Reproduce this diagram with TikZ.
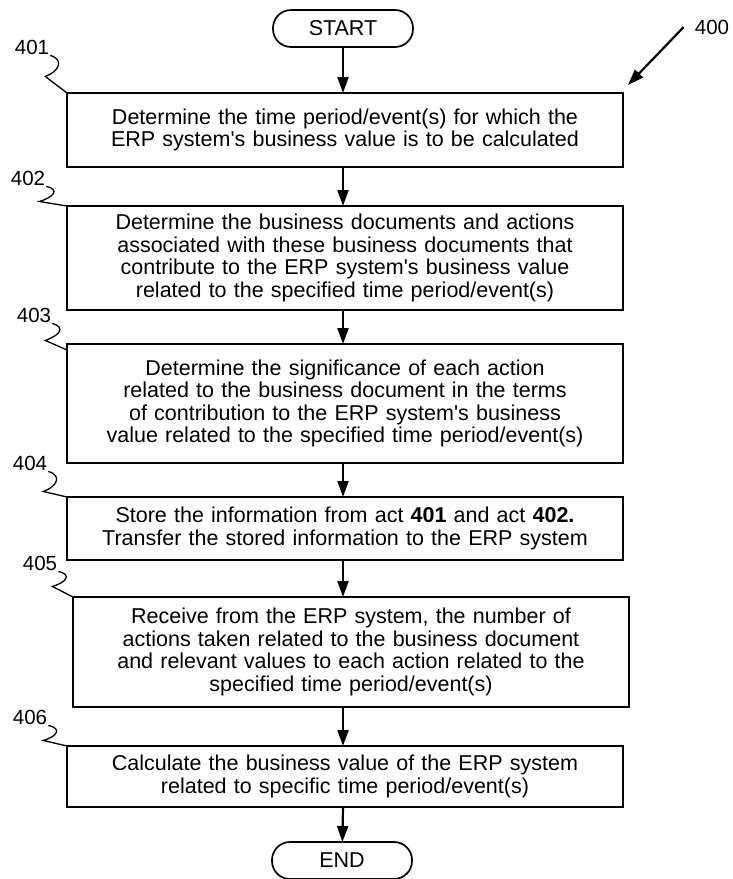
\documentclass[tikz,border=0pt]{standalone}
\usepackage{fontspec}
\setmainfont{Liberation Sans}
\usetikzlibrary{positioning,arrows.meta}

\begin{document}
\begin{tikzpicture}[x=1pt,y=1pt,
    stepbox/.style={draw,line width=1.7pt,outer sep=0pt,align=center,minimum width=556pt,text width=545pt,inner sep=0pt,font=\fontsize{21.5}{22.5}\selectfont},
    term/.style={draw,line width=1.7pt,outer sep=0pt,rounded corners=18pt,minimum width=140pt,minimum height=37pt,inner sep=0pt,font=\fontsize{21.5}{22}\selectfont},
    num/.style={inner sep=1pt,font=\fontsize{20.5}{22}\selectfont},
    flow/.style={line width=2.2pt,-{Triangle[length=16pt,width=11pt]}},
    squig/.style={line width=1.3pt}] %
    \useasboundingbox (0,0) rectangle (732,-879);
    \node[term] (start) at (343,-28.5) {START} ; %
    \node[stepbox,minimum height=74pt,below=46pt of start,xshift=2pt] (s401) {Determine the time period/event(s) for which the\\ERP system\textquotesingle s business value is to be calculated} ; %
    \node[stepbox,minimum height=104pt,below=39pt of s401] (s402) {Determine the business documents and actions\\associated with these business documents that\\contribute to the ERP system\textquotesingle s business value\\related to the specified time period/event(s)} ; %
    \node[stepbox,minimum height=119pt,below=34pt of s402] (s403) {Determine the significance of each action\\related to the business document in the terms\\of contribution to the ERP system\textquotesingle s business\\value related to the specified time period/event(s)};
    \node[stepbox,minimum height=63pt,below=34pt of s403] (s404) {Store the information from act \textbf{401} and act \textbf{402.}\\Transfer the stored information to the ERP system};
    \node[stepbox,minimum height=110pt,below=37pt of s404,xshift=6pt] (s405) {Receive from the ERP system, the number of\\actions taken related to the business document\\and relevant values to each action related to the\\specified time period/event(s)};
    \node[stepbox,minimum height=61pt,below=39pt of s405,xshift=-6pt] (s406) {Calculate the business value of the ERP system\\related to specific time period/event(s)};
    \node[term,below=35pt of s406,xshift=-3pt] (end) {END};
    % reference numerals
    \node[num] (l400) at (712,-27) {400};
    \node[num] (l401) at (32,-47) {401};
    \node[num] (l402) at (28,-178) {402};
    \node[num] (l403) at (34,-315) {403};
    \node[num] (l404) at (30,-463) {404};
    \node[num] (l405) at (40,-563) {405};
    \node[num] (l406) at (30,-717) {406};
    % flow
    \draw[flow] (start) -- (start |- s401.north);
    \draw[flow] (start |- s401.south) -- (start |- s402.north);
    \draw[flow] (start |- s402.south) -- (start |- s403.north);
    \draw[flow] (start |- s403.south) -- (start |- s404.north);
    \draw[flow] (start |- s404.south) -- (start |- s405.north);
    \draw[flow] (start |- s405.south) -- (start |- s406.north);
    \draw[flow] (start |- s406.south) -- (end);
    \draw[flow] ([xshift=-10pt]l400.west) -- ([shift={(5pt,8pt)}]s401.north east);
    % leaders
    \draw[squig] (l401.south east) .. controls +(14,-4) and +(14,5) .. ++(-5,-21) -- (s401.north west);
    \draw[squig] (l402.south east) .. controls +(14,-3) and +(14,4) .. ++(-7,-15) -- (s402.north west);
    \draw[squig] (l403.south east) .. controls +(14,-4) and +(14,5) .. ++(-7,-17) -- ([yshift=-6pt]s403.north west);
    \draw[squig] (l404.south east) .. controls +(14,-4) and +(14,5) .. ++(-5,-20) -- (s404.north west);
    \draw[squig] (l405.south east) .. controls +(14,-3) and +(14,4) .. ++(-6,-15) -- (s405.north west);
    \draw[squig] (l406.south east) .. controls +(14,-3) and +(14,4) .. ++(-5,-15) -- (s406.north west);
  \end{tikzpicture}
\end{document}
